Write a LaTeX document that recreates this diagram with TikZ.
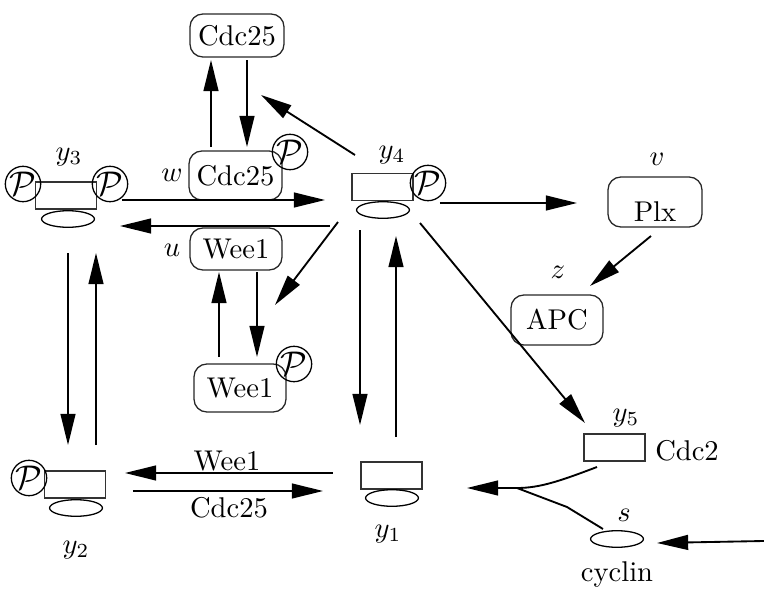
\documentclass[tikz,border=0pt]{standalone}
\usetikzlibrary{arrows.meta,shapes.geometric}
\begin{document}
\begin{tikzpicture}[x=0.35pt,y=-0.35pt,
  sp/.style={draw=black!80, line width=0.45pt, minimum width=21.35pt, minimum height=9.45pt, inner sep=0pt},
  el/.style={draw, ellipse, line width=0.45pt, minimum width=18.5pt, minimum height=5.8pt, inner sep=0pt},
  rb/.style={draw=black!85, rounded corners=4.5pt, line width=0.45pt, inner sep=0pt},
  ph/.style={draw, circle, line width=0.45pt, minimum size=8.4pt, inner sep=0pt},
  lab/.style={inner sep=0pt},
  arr/.style={line width=0.65pt, -{Triangle[length=10.9pt,width=5.2pt]}},
  ln/.style={line width=0.65pt}]
\newcommand{\phos}{\scalebox{1.2}{$\mathcal{P}$}}
\useasboundingbox (0,0) rectangle (764,592);

% rounded boxes
\node[rb, minimum width=32.9pt, minimum height=15.05pt] (cdcT) at (237,35.5) {Cdc25};
\node[rb, minimum width=32.55pt, minimum height=17.15pt] (cdcP) at (235.5,175.5) {Cdc25};
\node[rb, minimum width=32.2pt, minimum height=14.7pt] (weeU) at (236,249) {Wee1};
\node[rb, minimum width=32.2pt, minimum height=16.8pt] (weeP) at (240,388) {Wee1};
\node[rb, minimum width=32.9pt, minimum height=17.5pt] (plx) at (655,202) {};
\node[lab] (plxt) at (655,212) {Plx};
\node[rb, minimum width=32.2pt, minimum height=17.5pt] (apc) at (557,320) {APC};

% species
\node[sp] (y3b) at (66,195.5) {};
\node[el] (y3e) at (68,219) {};
\node[sp] (y4b) at (382.5,187) {};
\node[el] (y4e) at (383,210) {};
\node[sp] (y1b) at (391.5,475.5) {};
\node[el] (y1e) at (392,498) {};
\node[sp] (y2b) at (75,484.5) {};
\node[el] (y2e) at (76,508) {};
\node[sp] (y5b) at (614.5,447.5) {};
\node[el] (se) at (617,539) {};

% phosphates
\node[ph] (p3l) at (23,184) {\phos};
\node[ph] (p3r) at (110,184) {\phos};
\node[ph] (p4) at (428,183) {\phos};
\node[ph] (p2) at (29,478) {\phos};
\node[ph] (pw) at (290,152) {\phos};
\node[ph] (pwee) at (294,364) {\phos};

% labels
\node[lab] (ly3) at (69,157) {$y_3$};
\node[lab] (ly4) at (392,155) {$y_4$};
\node[lab] (ly1) at (388,534) {$y_1$};
\node[lab] (ly2) at (76,550) {$y_2$};
\node[lab] (ly5) at (626,418) {$y_5$};
\node[lab] (lv) at (657,159) {$v$};
\node[lab] (lz) at (558,272) {$z$};
\node[lab] (lw) at (172,175) {$w$};
\node[lab] (lu) at (172,250) {$u$};
\node[lab] (ls) at (624,515) {$s$};
\node[lab] (lcyc) at (617,575) {cyclin};
\node[lab] (lcdc2) at (687,451) {Cdc2};
\node[lab] (lwee) at (227,461) {Wee1};
\node[lab] (lcdc) at (229,508) {Cdc25};

% connector end points
\coordinate (a1s) at (211,147); \coordinate (a1e) at (211,60);
\coordinate (a2s) at (247,60);  \coordinate (a2e) at (247,147);
\coordinate (a3s) at (355,155); \coordinate (a3e) at (261,95);
\coordinate (a4s) at (122,200); \coordinate (a4e) at (325,200);
\coordinate (a5s) at (330,226); \coordinate (a5e) at (120,226);
\coordinate (a6s) at (338,222); \coordinate (a6e) at (275,305);
\coordinate (a7s) at (219,357); \coordinate (a7e) at (219,272);
\coordinate (a8s) at (257,272); \coordinate (a8e) at (257,357);
\coordinate (a9s) at (68,253);  \coordinate (a9e) at (68,445);
\coordinate (a10s) at (96,445); \coordinate (a10e) at (96,253);
\coordinate (a11s) at (360,230); \coordinate (a11e) at (360,425);
\coordinate (a12s) at (396,437); \coordinate (a12e) at (396,236);
\coordinate (a13s) at (333,473); \coordinate (a13e) at (125,473);
\coordinate (a14s) at (133,491); \coordinate (a14e) at (323,491);
\coordinate (a15s) at (440,203); \coordinate (a15e) at (577,203);
\coordinate (a16s) at (651,236); \coordinate (a16e) at (590,286);
\coordinate (a17s) at (420,223); \coordinate (a17e) at (585,423);
\coordinate (mj) at (517,488);   \coordinate (a18e) at (467,488);
\coordinate (a19s) at (764,541); \coordinate (a19e) at (657,543);
\coordinate (c1s) at (597,467);
\coordinate (c2s) at (603,529); \coordinate (c2m) at (567,507);

\draw[arr] (a1s) -- (a1e);
\draw[arr] (a2s) -- (a2e);
\draw[arr] (a3s) -- (a3e);
\draw[arr] (a4s) -- (a4e);
\draw[arr] (a5s) -- (a5e);
\draw[arr] (a6s) -- (a6e);
\draw[arr] (a7s) -- (a7e);
\draw[arr] (a8s) -- (a8e);
\draw[arr] (a9s) -- (a9e);
\draw[arr] (a10s) -- (a10e);
\draw[arr] (a11s) -- (a11e);
\draw[arr] (a12s) -- (a12e);
\draw[arr] (a13s) -- (a13e);
\draw[arr] (a14s) -- (a14e);
\draw[arr] (a15s) -- (a15e);
\draw[arr] (a16s) -- (a16e);
\draw[arr] (a17s) -- (a17e);
\draw[arr] (mj) -- (a18e);
\draw[arr] (a19s) -- (a19e);
\draw[ln] (c1s) .. controls (560,481) and (540,488) .. (mj);
\draw[ln] (c2s) -- (c2m) -- (mj);
\end{tikzpicture}
\end{document}
